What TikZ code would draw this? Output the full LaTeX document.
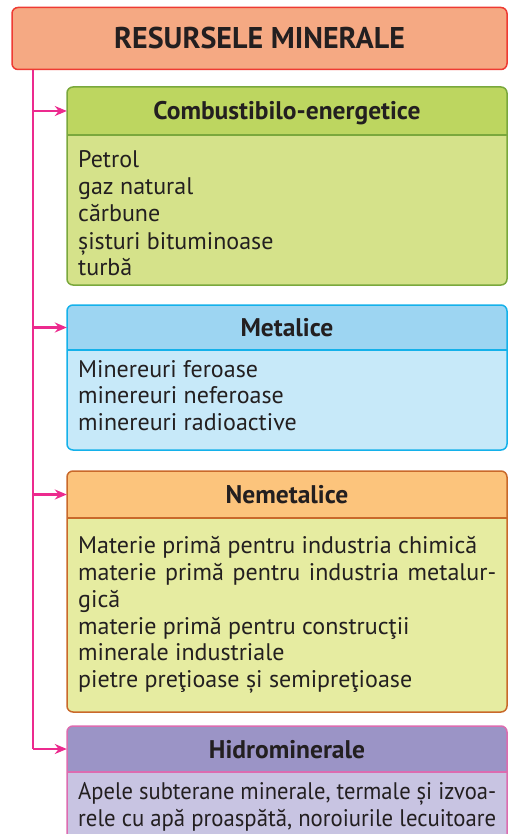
\documentclass[tikz,border=0pt]{standalone}
\usepackage{fontspec}
\usepackage{graphicx}
\setmainfont{PT Sans}
\usetikzlibrary{arrows.meta}
\definecolor{txt}{HTML}{231F20}
\definecolor{titfill}{HTML}{F5A983}
\definecolor{titdraw}{HTML}{EE3B33}
\definecolor{ghdr}{HTML}{BDD660}
\definecolor{gbody}{HTML}{D5E28A}
\definecolor{gline}{HTML}{7AA83C}
\definecolor{bhdr}{HTML}{9DD5F2}
\definecolor{bbody}{HTML}{C7E9F9}
\definecolor{bline}{HTML}{14B1EA}
\definecolor{ohdr}{HTML}{FCC47C}
\definecolor{obody}{HTML}{E6ECA1}
\definecolor{oline}{HTML}{C9692A}
\definecolor{phdr}{HTML}{9B94C6}
\definecolor{pbody}{HTML}{C8C4E2}
\definecolor{pline}{HTML}{DC6CB0}
\definecolor{spinec}{HTML}{EC2A8E}
\newcommand{\justline}[1]{\makebox[418pt][s]{#1}}
\newcommand{\squeezeline}[1]{\resizebox{418pt}{\height}{#1}}
\tikzset{
  hdrtext/.style={font=\fontsize{25.5}{30}\selectfont\bfseries, text=txt, inner sep=0pt,
    text height=18pt, text depth=0pt, minimum width=440pt, minimum height=47pt},
  bodytext/.style={font=\fontsize{24}{27}\selectfont, text=txt, anchor=base west, inner sep=0pt},
  boxline/.style={line width=1.5pt},
  spineline/.style={draw=spinec, line width=2.3pt},
  arr/.style={spineline, -{Stealth[length=12pt,width=10pt]}},
}
\newcommand{\colbox}[6]{% top, sep, bottom, hdr, body, line
  \fill[#5, rounded corners=6pt] (67,#1) rectangle (507,#3);
  \fill[#4] (67,#2) {[rounded corners=6pt] -- (67,#1) -- (507,#1)} -- (507,#2) -- cycle;
  \draw[#6, boxline] (67,#2) -- (507,#2);
  \draw[#6, boxline, rounded corners=6pt] (67,#1) rectangle (507,#3);
}
\begin{document}
\begin{tikzpicture}[x=1pt,y=-1pt]
\useasboundingbox (0,0) rectangle (508,834);
% title
\node[draw=titdraw, fill=titfill, line width=1.5pt, rounded corners=6pt,
      minimum width=495pt, minimum height=62pt, inner sep=0pt, text height=21pt, text depth=0pt,
      font=\fontsize{30}{34}\selectfont\bfseries, text=txt] (title) at (259.5,38.5) {RESURSELE MINERALE};
\coordinate (s0) at ([xshift=22pt]title.south west);
% boxes
\colbox{87}{135}{285}{ghdr}{gbody}{gline}
\colbox{305}{350}{450}{bhdr}{bbody}{bline}
\colbox{471}{518}{712}{ohdr}{obody}{oline}
\colbox{726}{772}{845}{phdr}{pbody}{pline}
% headers
\node[hdrtext] (h1) at (287,111) {Combustibilo-energetice};
\node[hdrtext] (h2) at (287,327.5) {Metalice};
\node[hdrtext] (h3) at (287,494.5) {Nemetalice};
\node[hdrtext] (h4) at (287,749) {Hidrominerale};
% connectors
\draw[spineline] (s0) -- (s0 |- h4.west);
\draw[arr] (s0 |- h4.west) -- (h4.west);
\draw[arr] (s0 |- h1.west) -- (h1.west);
\draw[arr] (s0 |- h2.west) -- (h2.west);
\draw[arr] (s0 |- h3.west) -- (h3.west);
% body texts
\node[bodytext] (t11) at (78,168) {Petrol};
\node[bodytext] (t12) at (78,195) {gaz natural};
\node[bodytext] (t13) at (78,222) {cărbune};
\node[bodytext] (t14) at (78,249) {șisturi bituminoase};
\node[bodytext] (t15) at (78,275) {turbă};
\node[bodytext] (t21) at (78,377) {Minereuri feroase};
\node[bodytext] (t22) at (78,403) {minereuri neferoase};
\node[bodytext] (t23) at (78,430) {minereuri radioactive};
\node[bodytext] (t31) at (78,553) {Materie primă pentru industria chimică};
\node[bodytext] (t32) at (78,580) {\justline{materie primă pentru industria metalur-}};
\node[bodytext] (t33) at (78,607) {gică};
\node[bodytext] (t34) at (78,634) {materie primă pentru construcţii};
\node[bodytext] (t35) at (78,660) {minerale industriale};
\node[bodytext] (t36) at (78,687) {pietre preţioase și semipreţioase};
\node[bodytext] (t41) at (78,799) {\squeezeline{Apele subterane minerale, termale și izvoa-}};
\node[bodytext] (t42) at (78,826) {\squeezeline{rele cu apă proaspătă, noroiurile lecuitoare}};
\end{tikzpicture}
\end{document}
